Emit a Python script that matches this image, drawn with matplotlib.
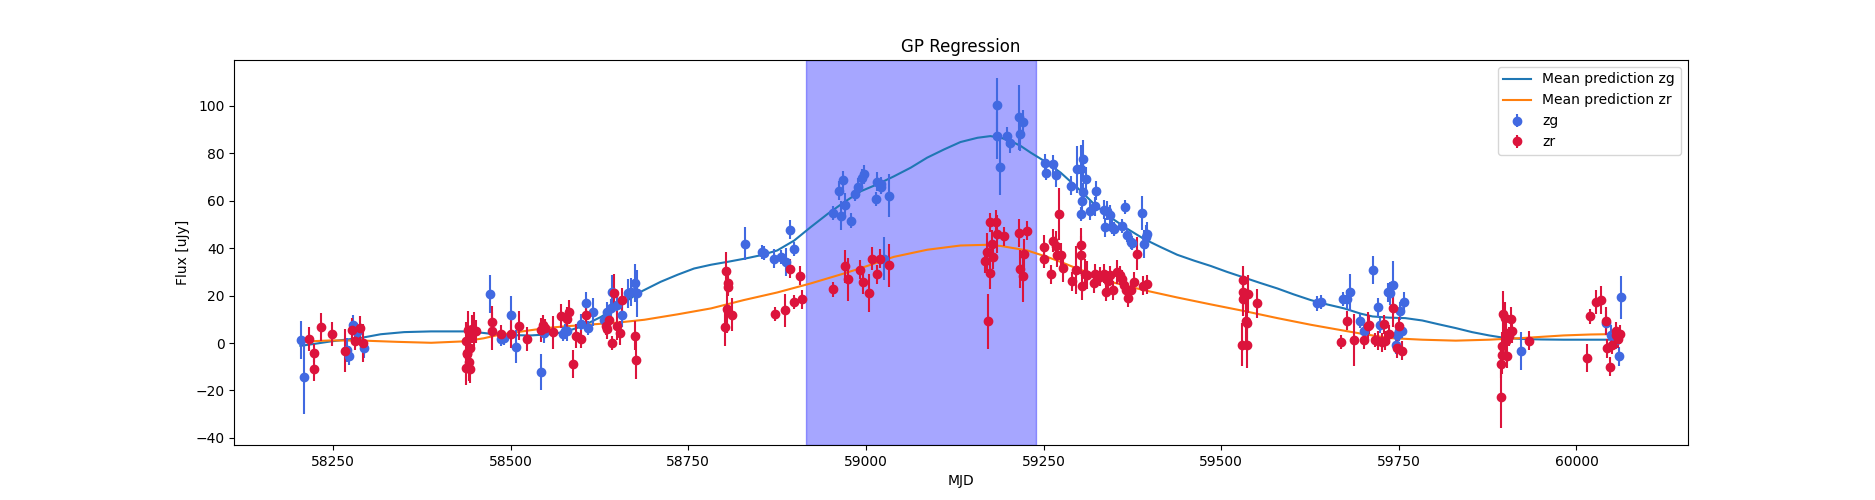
import numpy as np
import matplotlib
matplotlib.use("Agg")
import matplotlib.pyplot as plt

# ---- zg band observations ----
zg_mjd = [58204.5, 58209, 58270, 58273, 58278.6, 58284, 58292.8,
          58471, 58487, 58491, 58501, 58508, 58542, 58547,
          58573, 58577, 58579, 58599, 58605.5, 58609, 58616, 58631, 58636, 58641, 58642,
          58649, 58656, 58665, 58669, 58675, 58678,
          58830, 58854, 58857, 58871, 58880, 58887, 58893, 58898,
          58954, 58962, 58965.5, 58968, 58971, 58978.5, 58984, 58989, 58994, 58997,
          59013.6, 59015, 59020.6, 59021.6, 59025, 59032.4,
          59184, 59185, 59188.6, 59199, 59203, 59215, 59217, 59221.4,
          59251.4, 59252.8, 59263.6, 59267, 59289, 59296.4, 59302, 59305.3, 59306,
          59304.4, 59303, 59309, 59316, 59323, 59324, 59335, 59339.6, 59336,
          59344, 59346.6, 59349, 59359.8, 59364.4, 59367.7, 59372.4, 59375,
          59389, 59391.2, 59393.5, 59396,
          59635, 59641, 59671, 59676.4, 59680.6, 59695, 59700.7, 59713.4, 59720.4,
          59724, 59735, 59738, 59742, 59746, 59747.6, 59750, 59752, 59754.7, 59757.5,
          59922.6, 60042, 60048, 60055, 60059.5, 60063.3]
zg_flux = [1.4, -14.2, -3.0, -5.3, 7.7, 4.5, -2.1,
           20.5, 1.8, 2.1, 11.7, -1.6, -12.2, 4.2,
           3.9, 4.9, 4.9, 8.1, 16.7, 6.3, 13.1, 9.5, 13.2, 14.6, 21.6,
           16.0, 11.9, 20.9, 21.6, 25.1, 20.9,
           41.8, 38.4, 38.0, 35.6, 36.3, 34.2, 47.7, 39.7,
           54.8, 64.2, 53.7, 68.5, 58.2, 51.6, 62.8, 65.6, 69.5, 71.1,
           60.7, 67.9, 66.9, 65.6, 35.5, 62.1,
           100.4, 87.4, 74.2, 87.2, 84.1, 95.1, 87.9, 93.0,
           75.7, 71.5, 75.3, 70.7, 66.2, 73.2, 73.5, 77.4, 63.5,
           60.0, 54.4, 69.0, 55.8, 57.6, 64.2, 56.2, 55.8, 48.8,
           54.0, 48.8, 48.1, 49.2, 57.2, 45.6, 42.5, 42.3,
           54.8, 41.8, 44.6, 46.0,
           16.7, 17.4, 18.4, 18.4, 21.3, 9.3, 4.9, 30.7, 15.1,
           7.4, 21.3, 20.9, 24.4, -0.7, 3.5, 4.9, 13.5, 5.2, 17.4,
           -3.2, 8.4, 3.5, 1.4, -5.6, 19.2]
zg_err = [8, 15.5, 5, 4, 4, 4, 4,
          8, 3, 3, 8, 7, 7.5, 4,
          3, 3, 4, 4, 5, 3, 6, 4, 4, 4, 7,
          4, 5, 6, 6, 8, 10,
          7, 3, 3, 4, 3, 6, 4, 3,
          3, 4, 6, 4, 5, 3, 3, 4, 4, 4,
          3, 4, 3, 3, 9, 9,
          11.5, 10, 12, 4, 4, 13.7, 7, 5,
          4, 3, 4, 5, 4, 10, 10, 8, 4,
          4, 3, 5, 4, 4, 4, 4, 4, 4,
          4, 3, 3, 3, 3, 3, 3, 3,
          7, 6, 5, 5,
          3, 3, 3, 4, 8, 3, 3, 6, 4,
          3, 4, 5, 10, 4, 4, 4, 4, 3, 4,
          8, 5, 4, 4, 4, 9]

# ---- zr band observations ----
zr_mjd = [58216, 58223, 58223.5, 58233, 58249, 58267, 58277, 58280.5, 58287.5, 58292,
          58436.7, 58438, 58439, 58437, 58441.6, 58443, 58442, 58440, 58446, 58449, 58450.8,
          58473, 58474, 58487, 58501, 58512, 58523, 58542, 58546, 58548, 58560,
          58571, 58579, 58582, 58587, 58591.5, 58598.5, 58605.5,
          58634, 58636, 58638, 58642, 58646, 58650, 58654, 58656, 58675, 58677,
          58802, 58803, 58804, 58806, 58806.5, 58811,
          58872, 58886, 58893, 58899, 58907, 58910.5,
          58954, 58970.5, 58974, 58992, 58996, 59004, 59009, 59015, 59020, 59032,
          59167, 59170, 59172, 59174.5, 59175, 59178, 59178.5, 59182.5, 59184, 59194,
          59215, 59217, 59221, 59222, 59227,
          59250.5, 59251, 59261, 59263.6, 59267, 59269, 59271.6, 59275, 59277.7,
          59290, 59296, 59302, 59302.5, 59304, 59308, 59311, 59321, 59323, 59329,
          59335, 59338, 59340, 59344, 59348, 59353, 59357.4, 59361, 59363, 59365.4,
          59368.7, 59372.4, 59377, 59381, 59390.3, 59396,
          59530, 59530.5, 59531, 59537, 59534.3, 59536.6, 59529.5, 59536.8, 59550.7,
          59668, 59677.3, 59687, 59700.7, 59707, 59708, 59716, 59721, 59725.6, 59729,
          59730, 59736, 59741.5, 59747.6, 59750, 59754.7,
          59894.4, 59894, 59895, 59895.4, 59896.3, 59899, 59901, 59902.4, 59901.5,
          59905, 59909.5, 59908.5, 59933,
          60015, 60019, 60028, 60035, 60041, 60043, 60047, 60050, 60055, 60056,
          60058, 60061]
zr_flux = [1.7, -4.2, -10.9, 6.7, 3.8, -3.2, 5.4, 1.0, 6.3, -0.1,
           0.7, -4.2, -4.6, -10.5, -8.0, -10.9, -2.1, 5.6, 5.9, 5.2, 4.9,
           4.9, 8.8, 3.8, 3.8, 7.3, 1.8, 5.4, 7.7, 6.3, 4.5,
           11.4, 10.2, 13.2, -8.8, 3.1, 1.7, 11.9,
           7.3, 5.9, 9.8, 0.0, 20.9, 7.3, 4.2, 18.1, 3.1, -7.0,
           6.6, 30.3, 14.2, 25.1, 23.7, 11.9,
           12.1, 13.8, 31.4, 17.2, 28.3, 18.5,
           22.6, 32.4, 26.8, 30.8, 25.8, 20.9, 35.6, 28.9, 35.6, 32.8,
           34.4, 38.4, 9.1, 29.7, 50.9, 41.8, 36.3, 50.9, 46.0, 45.0,
           46.4, 31.4, 28.2, 37.7, 47.4,
           35.6, 40.4, 28.9, 43.2, 41.1, 37.0, 54.4, 37.0, 31.7,
           26.1, 30.7, 41.4, 37.2, 24.1, 29.3, 28.6, 25.1, 29.3, 27.9,
           29.3, 21.6, 26.1, 28.6, 22.3, 30.0, 28.6, 26.9, 24.4, 22.3,
           19.1, 22.3, 25.8, 37.7, 24.1, 24.7,
           26.5, 21.3, 18.4, 20.5, 9.1, 8.4, -0.7, -0.7, 16.7,
           0.4, 9.3, 1.4, 1.4, 7.0, 7.7, 1.4, 1.0, 0.4, 7.9,
           1.0, 3.8, 14.6, -2.1, 7.0, -3.2,
           -22.6, -8.8, -4.9, -1.4, 12.1, 10.5, 1.0, -5.6, 4.2,
           2.8, 5.2, 10.2, 1.0,
           -6.3, 11.2, 17.4, 18.1, 9.3, -2.1, -10.0, -0.7, 4.9, 3.2,
           1.8, 3.8]
zr_err = [5, 4, 5, 6, 5, 9, 5, 4, 5, 8,
          8, 8, 6, 7, 8, 6, 8, 8, 6, 8, 5,
          8, 7, 4, 6, 6, 5, 5, 4, 4, 7,
          5, 5, 5, 6, 5, 4, 5,
          4, 4, 5, 3, 8, 6, 5, 5, 6, 8,
          8, 8, 10, 5, 4, 7,
          3, 7, 4, 3, 4, 4,
          3, 7, 9, 4, 5, 8, 5, 4, 4, 9,
          5, 8, 11.5, 7, 4, 6, 5, 5, 8, 4,
          6, 8, 11, 6, 4,
          4, 5, 4, 5, 6, 5, 11, 5, 6,
          4, 10, 7, 8, 6, 6, 6, 4, 4, 4,
          4, 4, 4, 4, 4, 5, 4, 4, 3, 3,
          4, 3, 4, 7, 4, 4,
          6, 7, 7, 8, 9, 10, 9, 10, 6,
          3, 4, 11, 4, 6, 4, 3, 4, 4, 4,
          4, 4, 8, 4, 4, 4,
          13, 6, 8, 6, 10, 7, 7, 5, 5,
          4, 5, 5, 4,
          6, 3, 5, 6, 6, 4, 4, 4, 4, 4,
          4, 4]

# ---- GP mean predictions ----
zg_pred_mjd = [58204, 58225, 58247, 58270, 58290, 58317, 58350, 58388, 58434, 58460,
               58481, 58505, 58528, 58550, 58574,
               58600, 58627, 58655, 58683, 58711, 58735, 58758, 58782, 58805, 58830,
               58852, 58875, 58899,
               58922, 58946, 58969, 58993, 59016, 59039, 59063, 59086, 59110, 59133,
               59157, 59175, 59190, 59204, 59218, 59232, 59251, 59274, 59297, 59321,
               59344, 59368, 59391, 59415, 59438, 59462, 59485, 59508, 59532, 59555,
               59579, 59602, 59626, 59650, 59673,
               59696, 59713, 59736, 59759, 59783, 59806, 59830, 59853, 59877, 59900,
               59924, 59950, 59982, 60020, 60063]
zg_pred = [-1.2, -0.3, 0.7, 1.5, 2.2, 3.7, 4.6, 4.9, 4.9, 4.3,
           3.6, 3.3, 3.2, 3.6, 4.5,
           7.0, 11.0, 16.2, 21.6, 25.8, 28.8, 31.4, 33.0, 34.2, 35.6,
           37.0, 39.0, 43.2,
           48.8, 54.4, 59.3, 64.0, 66.9, 70.2, 73.9, 78.1, 81.6, 84.7,
           86.5, 87.2, 86.5, 85.1, 83.0, 80.2, 76.7, 71.8, 65.6, 58.6,
           53.0, 48.1, 43.9, 40.4, 37.2, 34.7, 32.5, 30.0, 27.6, 25.3,
           23.0, 20.5, 18.1, 16.2, 14.6,
           12.4, 11.2, 10.7, 10.5, 9.5, 7.9, 6.3, 4.6, 3.2, 2.1,
           1.7, 1.5, 1.4, 1.4, 1.4]

zr_pred_mjd = [58216, 58247, 58294, 58340, 58388, 58434, 58462, 58481, 58505, 58528,
               58550, 58575,
               58617, 58650, 58688, 58735, 58782, 58828, 58875, 58922, 58969, 58993,
               59007, 59039, 59086, 59133, 59171, 59190, 59227, 59255, 59274, 59297,
               59330, 59344, 59391, 59438, 59485, 59532, 59579, 59626, 59673, 59696,
               59736, 59783, 59830, 59877, 59924, 59982, 60020, 60061]
zr_pred = [0.7, 1.1, 1.0, 0.5, 0.1, 0.7, 2.0, 3.3, 4.4, 5.4,
           6.3, 7.0,
           7.9, 8.6, 9.8, 12.1, 14.6, 18.1, 21.3, 25.1, 29.3, 31.6,
           33.0, 36.3, 39.3, 41.1, 41.4, 40.9, 39.0, 36.3, 34.2, 31.4,
           27.9, 25.8, 22.3, 19.2, 16.3, 13.5, 10.5, 7.7, 5.2, 4.0,
           2.1, 1.4, 1.0, 1.4, 2.1, 3.2, 3.6, 3.8]

# highlighted window
span_start, span_end = 58915, 59240

fig, ax = plt.subplots(figsize=(18.75, 5), dpi=100)

ax.plot(zg_pred_mjd, zg_pred, color='C0', label='Mean prediction zg')
ax.plot(zr_pred_mjd, zr_pred, color='C1', label='Mean prediction zr')
ax.errorbar(zg_mjd, zg_flux, yerr=zg_err, fmt='o', color='royalblue', label='zg')
ax.errorbar(zr_mjd, zr_flux, yerr=zr_err, fmt='o', color='crimson', label='zr')
ax.axvspan(span_start, span_end, color='blue', alpha=0.35)

ax.set_title('GP Regression')
ax.set_xlabel('MJD')
ax.set_ylabel('Flux [uJy]')
ax.legend(loc='upper right')

fig.savefig('out.png', dpi=100)
